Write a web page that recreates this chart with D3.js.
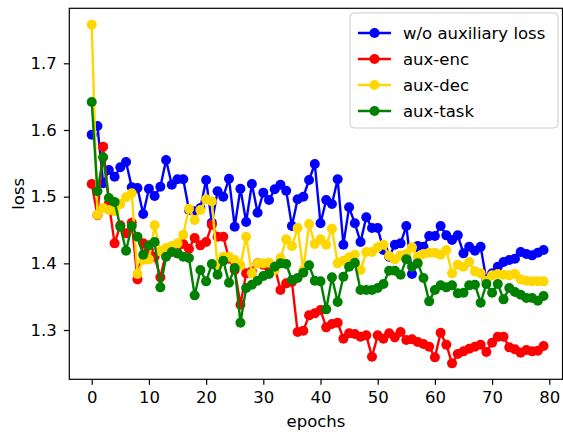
<!DOCTYPE html>
<html>
<head>
<meta charset="utf-8">
<script src="https://cdn.jsdelivr.net/npm/d3@7"></script>
<style>
  body { margin: 0; background: #fff; }
  svg { display: block; font-family: "DejaVu Sans", sans-serif; }
</style>
</head>
<body>
<div id="chart"></div>
<script>
// values
var epochs = d3.range(80)

var woAux = [1.593, 1.606, 1.520, 1.540, 1.530, 1.544, 1.552, 1.514, 1.513, 1.474,
	1.512, 1.501, 1.515, 1.555, 1.518, 1.526, 1.526, 1.480, 1.478, 1.483,
	1.525, 1.461, 1.508, 1.500, 1.527, 1.455, 1.512, 1.462, 1.519, 1.476,
	1.506, 1.495, 1.511, 1.518, 1.509, 1.456, 1.496, 1.500, 1.525, 1.549,
	1.460, 1.495, 1.489, 1.526, 1.428, 1.484, 1.460, 1.432, 1.469, 1.453,
	1.453, 1.420, 1.410, 1.428, 1.430, 1.456, 1.384, 1.426, 1.425, 1.441,
	1.441, 1.456, 1.442, 1.435, 1.442, 1.415, 1.425, 1.419, 1.425, 1.375,
	1.385, 1.395, 1.402, 1.405, 1.407, 1.417, 1.414, 1.412, 1.416, 1.420]

var auxEnc = [1.519, 1.472, 1.575, 1.490, 1.430, 1.457, 1.445, 1.461, 1.376, 1.430,
	1.420, 1.410, 1.379, 1.416, 1.418, 1.415, 1.429, 1.422, 1.438, 1.427,
	1.432, 1.458, 1.440, 1.440, 1.407, 1.390, 1.338, 1.385, 1.388, 1.400,
	1.398, 1.393, 1.395, 1.360, 1.370, 1.372, 1.297, 1.299, 1.322, 1.325,
	1.330, 1.304, 1.309, 1.311, 1.287, 1.295, 1.294, 1.290, 1.292, 1.260,
	1.292, 1.287, 1.295, 1.289, 1.297, 1.285, 1.286, 1.282, 1.279, 1.275,
	1.259, 1.296, 1.278, 1.250, 1.264, 1.268, 1.272, 1.275, 1.278, 1.267,
	1.281, 1.290, 1.290, 1.274, 1.271, 1.266, 1.270, 1.268, 1.269, 1.276]

var auxDec = [1.758, 1.473, 1.483, 1.480, 1.478, 1.489, 1.499, 1.505, 1.384, 1.405,
	1.406, 1.457, 1.418, 1.423, 1.426, 1.430, 1.443, 1.482, 1.465, 1.480,
	1.496, 1.493, 1.395, 1.410, 1.410, 1.405, 1.397, 1.440, 1.385, 1.400,
	1.400, 1.401, 1.390, 1.408, 1.436, 1.426, 1.453, 1.390, 1.459, 1.429,
	1.436, 1.428, 1.452, 1.400, 1.404, 1.409, 1.413, 1.390, 1.417, 1.417,
	1.424, 1.428, 1.411, 1.406, 1.412, 1.414, 1.424, 1.410, 1.414, 1.416,
	1.416, 1.413, 1.420, 1.385, 1.398, 1.395, 1.402, 1.388, 1.385, 1.374,
	1.382, 1.384, 1.383, 1.382, 1.384, 1.376, 1.374, 1.373, 1.373, 1.373]

var auxTask = [1.642, 1.508, 1.559, 1.498, 1.492, 1.455, 1.419, 1.456, 1.440, 1.413,
	1.427, 1.432, 1.364, 1.410, 1.417, 1.415, 1.410, 1.408, 1.352, 1.390,
	1.373, 1.399, 1.383, 1.404, 1.371, 1.393, 1.311, 1.363, 1.368, 1.374,
	1.381, 1.384, 1.395, 1.400, 1.399, 1.375, 1.378, 1.386, 1.397, 1.374,
	1.373, 1.331, 1.379, 1.342, 1.380, 1.395, 1.401, 1.360, 1.360, 1.360,
	1.363, 1.369, 1.389, 1.389, 1.383, 1.406, 1.395, 1.400, 1.378, 1.343,
	1.360, 1.367, 1.364, 1.367, 1.355, 1.356, 1.367, 1.368, 1.341, 1.369,
	1.356, 1.369, 1.346, 1.363, 1.357, 1.353, 1.348, 1.348, 1.344, 1.351]

var seriesNames = ["w/o auxiliary loss", "aux-enc", "aux-dec", "aux-task"]
var seriesColors = ["#0000ff", "#ff0000", "#ffd700", "#008000"]
var xTicks = [0, 10, 20, 30, 40, 50, 60, 70, 80]
var yTicks = [1.3, 1.4, 1.5, 1.6, 1.7]

var width = 563, height = 432
var plot = {left: 69.3, right: 562.5, top: 8.3, bottom: 379.3}
var fontSize = 16.5

var series = [woAux, auxEnc, auxDec, auxTask].map((vals, k) => ({
	name: seriesNames[k],
	color: seriesColors[k],
	points: vals.map((v, i) => ({x: epochs[i], y: v}))
}))

var x = d3.scaleLinear()
	.domain([-3.92, 82.31])
	.range([plot.left, plot.right])

var y = d3.scaleLinear()
	.domain([1.2261, 1.7825])
	.range([plot.bottom, plot.top])

const svg = d3.select("#chart").append("svg")
	.attr("width", width)
	.attr("height", height)

// lines + markers, drawn in legend order so green ends on top
const line = d3.line().x(d => x(d.x)).y(d => y(d.y))

const gSeries = svg.append("g")
series.forEach(s => {
	const g = gSeries.append("g")
	g.append("path")
		.datum(s.points)
		.attr("fill", "none")
		.attr("stroke", s.color)
		.attr("stroke-width", 2.4)
		.attr("stroke-linejoin", "round")
		.attr("d", line)
	g.selectAll("circle")
		.data(s.points)
		.join("circle")
		.attr("cx", d => x(d.x))
		.attr("cy", d => y(d.y))
		.attr("r", 5)
		.attr("fill", s.color)
})

// axes
const gx = svg.append("g")
	.attr("transform", `translate(0,${plot.bottom})`)
	.call(d3.axisBottom(x).tickValues(xTicks).tickSize(5.5).tickPadding(6).tickFormat(d3.format("d")))
gx.select(".domain").remove()

const gy = svg.append("g")
	.attr("transform", `translate(${plot.left},0)`)
	.call(d3.axisLeft(y).tickValues(yTicks).tickSize(5.5).tickPadding(7).tickFormat(d3.format(".1f")))
gy.select(".domain").remove()

svg.selectAll(".tick line").attr("stroke", "#000").attr("stroke-width", 1.2)
svg.selectAll(".tick text").attr("fill", "#000").attr("font-size", fontSize).attr("font-family", "DejaVu Sans")

// frame
svg.append("rect")
	.attr("x", plot.left)
	.attr("y", plot.top)
	.attr("width", plot.right - plot.left)
	.attr("height", plot.bottom - plot.top)
	.attr("fill", "none")
	.attr("stroke", "#000")
	.attr("stroke-width", 1.2)

// axis labels
svg.append("text")
	.attr("x", 316)
	.attr("y", 427)
	.attr("text-anchor", "middle")
	.attr("font-size", fontSize)
	.text("epochs")

svg.append("text")
	.attr("transform", `translate(24,${(plot.top + plot.bottom) / 2}) rotate(-90)`)
	.attr("text-anchor", "middle")
	.attr("font-size", fontSize)
	.text("loss")

// legend
const legend = svg.append("g")
legend.append("rect")
	.attr("x", 350).attr("y", 13)
	.attr("width", 208).attr("height", 115)
	.attr("rx", 4)
	.attr("fill", "#fff").attr("fill-opacity", 0.8)
	.attr("stroke", "#cccccc").attr("stroke-width", 1)

const rows = legend.selectAll("g.row")
	.data(series)
	.join("g")
	.attr("class", "row")
	.attr("transform", (d, i) => `translate(0,${33 + i * 26})`)

rows.append("line")
	.attr("x1", 358).attr("x2", 391)
	.attr("stroke", d => d.color)
	.attr("stroke-width", 2.4)
rows.append("circle")
	.attr("cx", 374.5).attr("r", 5)
	.attr("fill", d => d.color)
rows.append("text")
	.attr("x", 403)
	.attr("dy", "0.35em")
	.attr("font-size", fontSize)
	.text(d => d.name)
</script>
</body>
</html>
